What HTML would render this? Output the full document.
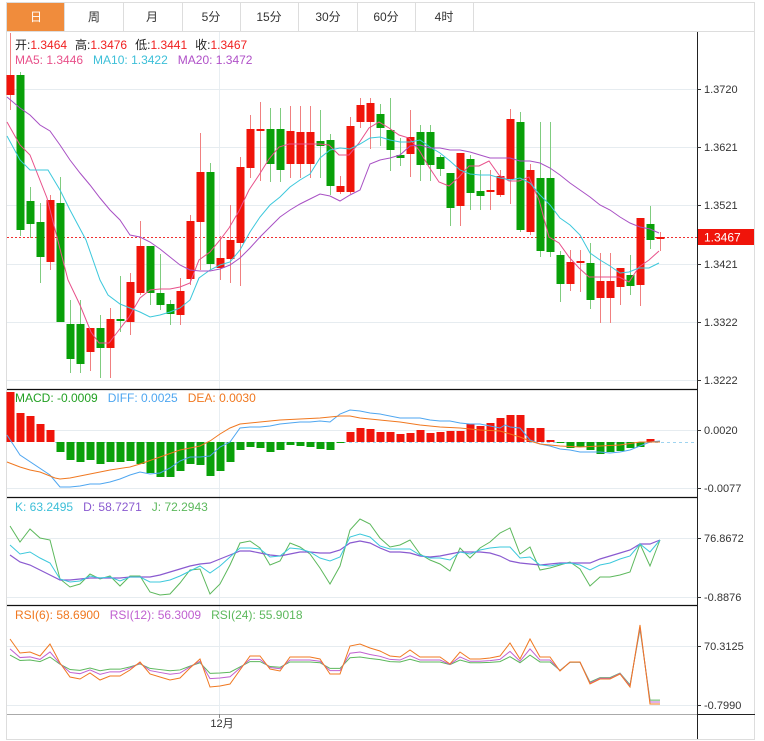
<!DOCTYPE html>
<html><head><meta charset="utf-8"><style>
html,body{margin:0;padding:0;background:#fff;width:764px;height:741px;overflow:hidden}
svg{display:block}
text{font-family:"Liberation Sans","Noto Sans CJK SC",sans-serif}
</style></head><body>
<svg id="s" width="764" height="741" xmlns="http://www.w3.org/2000/svg">
<rect x="0" y="0" width="764" height="741" fill="#fff"/>
<rect x="6.5" y="2.5" width="748" height="29" fill="#fff" stroke="#ddd"/>
<rect x="7" y="3" width="57" height="28" fill="#f08c3c"/>
<g stroke="#ddd"><line x1="64.5" y1="2" x2="64.5" y2="31"/><line x1="123.5" y1="2" x2="123.5" y2="31"/><line x1="182.5" y1="2" x2="182.5" y2="31"/><line x1="240.5" y1="2" x2="240.5" y2="31"/><line x1="298.5" y1="2" x2="298.5" y2="31"/><line x1="357.5" y1="2" x2="357.5" y2="31"/><line x1="415.5" y1="2" x2="415.5" y2="31"/><line x1="473.5" y1="2" x2="473.5" y2="31"/></g>
<g font-size="12" text-anchor="middle" fill="#333"><text x="36" y="21" fill="#fff">日</text><text x="94" y="21">周</text><text x="152" y="21">月</text><text x="211" y="21">5分</text><text x="269" y="21">15分</text><text x="328" y="21">30分</text><text x="386" y="21">60分</text><text x="444" y="21">4时</text></g>
<line x1="6.5" y1="31" x2="6.5" y2="739" stroke="#ddd"/>
<line x1="754.5" y1="31" x2="754.5" y2="739" stroke="#ddd"/>
<line x1="6" y1="739.5" x2="755" y2="739.5" stroke="#ddd"/>
<line x1="219.5" y1="32" x2="219.5" y2="714" stroke="#e8eef2"/>
<g id="grid" stroke="#e6ecf0"></g>
<g id="plot"></g>
<g stroke="#111" stroke-width="1.2">
<line x1="7" y1="389.5" x2="697" y2="389.5"/><line x1="7" y1="497.5" x2="697" y2="497.5"/><line x1="7" y1="605.5" x2="697" y2="605.5"/>
</g>
<line x1="7" y1="714.5" x2="697" y2="714.5" stroke="#aaa"/>
<line x1="697.5" y1="32" x2="697.5" y2="739" stroke="#222"/>
<line x1="697" y1="714.5" x2="755" y2="714.5" stroke="#222"/>
<line x1="219.5" y1="714" x2="219.5" y2="718" stroke="#888"/>
<text x="222" y="727" font-size="11" text-anchor="middle" fill="#333">12月</text>
<g id="axis" font-size="11" fill="#333"></g>
<rect x="698" y="229" width="56" height="16" fill="#f0140a"/>
<text x="704" y="241.5" font-size="12" fill="#fff">1.3467</text>
<g font-size="12">
<text x="15" y="49"><tspan fill="#222">开:</tspan><tspan fill="#f02020">1.3464</tspan><tspan fill="#222" dx="8">高:</tspan><tspan fill="#f02020">1.3476</tspan><tspan fill="#222" dx="8">低:</tspan><tspan fill="#f02020">1.3441</tspan><tspan fill="#222" dx="8">收:</tspan><tspan fill="#f02020">1.3467</tspan></text>
<text x="15" y="64"><tspan fill="#e8508a">MA5: 1.3446</tspan><tspan fill="#3cbfd8" dx="10">MA10: 1.3422</tspan><tspan fill="#b050c8" dx="10">MA20: 1.3472</tspan></text>
<text x="15" y="402"><tspan fill="#22a022">MACD: -0.0009</tspan><tspan fill="#4ea6f0" dx="10">DIFF: 0.0025</tspan><tspan fill="#f07820" dx="10">DEA: 0.0030</tspan></text>
<text x="15" y="511"><tspan fill="#3cbfd8">K: 63.2495</tspan><tspan fill="#8a5ad0" dx="10">D: 58.7271</tspan><tspan fill="#5cb85c" dx="10">J: 72.2943</tspan></text>
<text x="15" y="619"><tspan fill="#f07820">RSI(6): 58.6900</tspan><tspan fill="#c060d0" dx="10">RSI(12): 56.3009</tspan><tspan fill="#5cb85c" dx="10">RSI(24): 55.9018</tspan></text>
</g>
</svg>
<script>
var NS="http://www.w3.org/2000/svg";
function el(p,t,a){var e=document.createElementNS(NS,t);for(var k in a)e.setAttribute(k,a[k]);p.appendChild(e);return e;}
var plot=document.getElementById('plot'),grid=document.getElementById('grid'),axis=document.getElementById('axis');
function X(i){return 10+10*i;}
[[89,'1.3720'],[147,'1.3621'],[205,'1.3521'],[264,'1.3421'],[322,'1.3322'],[380,'1.3222'],[430,'0.0020'],[488,'-0.0077'],[538,'76.8672'],[597,'-0.8876'],[646,'70.3125'],[705,'-0.7990']].forEach(function(g){
 el(grid,'line',{x1:7,y1:g[0]+.5,x2:697,y2:g[0]+.5});
 el(axis,'line',{x1:697,y1:g[0]+.5,x2:701,y2:g[0]+.5,stroke:'#333'});
 var t=el(axis,'text',{x:704,y:g[0]+4});t.textContent=g[1];
});
el(plot,'line',{x1:7,y1:237.5,x2:697,y2:237.5,stroke:'#f03030','stroke-dasharray':'2,2'});
var C=[[1,75,95,33,110],[0,75,230,72,236],[0,201,224,187,238],[0,222,257,203,283],[1,200,262,195,270],[0,203,322,177,322],[0,324,359,300,373],[0,324,364,300,373],[1,328,352,328,371],[0,328,348,315,378],[1,319,348,308,378],[0,319,321,276,332],[1,282,322,273,335],[1,246,293,221,295],[0,246,293,246,305],[0,293,305,254,310],[0,304,314,300,325],[1,291,315,278,325],[1,221,279,215,285],[1,172,222,133,270],[0,172,264,163,270],[1,258,268,236,280],[1,240,259,205,283],[1,167,243,157,286],[1,129,168,115,178],[1,129,130,102,181],[0,129,164,108,182],[0,129,170,108,182],[1,131,164,106,178],[1,132,164,106,178],[1,132,164,106,178],[0,141,146,110,178],[0,140,186,134,195],[1,186,192,176,194],[1,126,192,117,194],[1,105,122,98,128],[1,103,122,98,149],[0,114,128,104,146],[0,130,150,98,171],[0,155,158,138,166],[1,137,154,110,177],[0,132,165,125,181],[0,132,165,125,181],[0,157,169,155,176],[0,173,208,173,226],[1,153,206,153,226],[0,159,193,155,210],[0,191,196,170,210],[1,190,192,170,210],[1,176,195,170,197],[1,119,179,109,204],[0,122,230,112,232],[1,170,232,164,235],[0,178,251,122,257],[0,178,252,122,257],[0,255,284,251,302],[1,262,284,250,291],[1,261,263,250,292],[0,263,300,243,309],[1,281,298,253,323],[1,281,298,253,323],[1,268,287,268,305],[0,275,286,255,295],[1,218,285,218,306],[0,224,240,206,249],[1,237,239,232,251]];
C.forEach(function(c,i){var x=X(i),col=c[0]?'#f0140a':'#09a009',wc=c[0]?'#f08080':'#80cc80';
 el(plot,'line',{x1:x+.5,y1:c[3],x2:x+.5,y2:c[4],stroke:wc});
 el(plot,'rect',{x:x-3.5,y:c[1],width:8,height:Math.max(2,c[2]-c[1]),fill:col});});
function line(pts,col,w){el(plot,'polyline',{points:pts.map(function(p){return p.join(',');}).join(' '),fill:'none',stroke:col,'stroke-width':w||1});}
function idx(arr){return arr.map(function(y,i){return [X(i),y];});}
line([[7,122],[20,145],[30,155],[47,198],[59,245],[68,280],[80,305],[91,332],[99,343],[109,343],[119,330],[129,317],[140,298],[150,290],[160,289],[170,289],[180,287],[190,283],[199,260],[210,252],[220,240],[229,228],[239,211],[249,190],[259,175],[269,159],[279,147],[289,144],[299,144],[309,144],[319,144],[329,145],[339,155],[349,155],[359,143],[369,128],[379,122],[389,128],[399,135],[409,138],[419,150],[429,167],[439,182],[449,186],[459,177],[469,166],[479,166],[489,161],[499,175],[509,181],[519,181],[529,177],[539,200],[549,237],[559,243],[569,257],[579,268],[589,277],[599,277],[609,277],[619,277],[629,282],[639,267],[649,260],[659,251]],'#e8508a');
line([[7,136],[20,160],[30,170],[48,170],[60,190],[70,210],[86,240],[100,280],[108,295],[120,304],[130,308],[140,312],[150,317],[160,315],[170,312],[180,308],[190,300],[199,278],[210,270],[220,265],[230,262],[240,250],[250,232],[260,217],[270,205],[280,197],[290,187],[300,180],[310,174],[320,158],[330,150],[340,148],[350,149],[360,144],[370,138],[380,137],[390,140],[400,142],[410,142],[420,140],[430,147],[440,153],[450,161],[460,170],[470,174],[480,175],[490,175],[500,178],[510,180],[520,178],[530,183],[540,195],[550,205],[560,218],[570,225],[580,235],[590,253],[600,260],[610,266],[620,273],[629,272],[639,268],[649,268],[659,263]],'#3cc8dc');
line([[7,97],[20,108],[30,115],[40,125],[50,131],[60,145],[70,160],[80,173],[90,185],[100,198],[110,210],[120,220],[130,235],[140,237],[150,242],[160,249],[170,257],[180,265],[190,270],[200,271],[210,271],[220,269],[230,265],[240,258],[250,248],[260,237],[270,227],[280,217],[290,210],[300,204],[310,199],[320,194],[330,196],[340,201],[350,195],[360,190],[370,164],[380,160],[390,158],[400,155],[410,146],[420,145],[430,148],[440,148],[450,150],[460,150],[470,152],[480,155],[490,158],[500,158],[510,158],[520,161],[530,161],[540,163],[550,168],[560,175],[570,183],[580,190],[590,197],[600,205],[610,210],[620,217],[630,223],[640,227],[650,229],[659,233]],'#a850c4');
el(plot,'line',{x1:55,y1:442.5,x2:697,y2:442.5,stroke:'#9fd4f0','stroke-dasharray':'3,3'});
var H=[392,413,416,424,430,452,460,462,460,464,462,462,461,464,473,477,477,471,464,465,476,471,462,450,447,448,452,450,445,446,447,449,450,443,432,428,429,432,432,434,433,430,433,432,431,431,424,426,423,418,415,415,428,428,440,443,448,447,450,454,452,451,448,447,439,442];
H.forEach(function(y,i){var x=X(i),z=442;if(y<z)el(plot,'rect',{x:x-3.5,y:y,width:8,height:z-y,fill:'#f0140a'});else if(y>z)el(plot,'rect',{x:x-3.5,y:z,width:8,height:y-z,fill:'#09a009'});});
line([[7,435],[20,455],[50,475],[60,487],[70,487],[80,486],[90,484],[100,484],[110,482],[120,479],[130,475],[140,472],[150,474],[160,473],[170,468],[180,461],[190,457],[200,457],[210,456],[220,447],[230,442],[240,428],[250,427],[260,427],[270,426],[280,424],[290,423],[300,422],[310,422],[320,421],[330,422],[340,414],[350,410],[360,411],[370,413],[380,414],[400,418],[410,418],[420,418],[430,420],[440,421],[450,421],[460,423],[470,424],[480,424],[490,426],[500,428],[505,425],[510,427],[520,428],[530,440],[540,444],[550,446],[560,449],[570,450],[580,452],[590,452],[600,452],[610,453],[620,452],[630,450],[640,446],[650,442],[660,441]],'#4ea6f0');
line([[7,462],[20,467],[30,470],[40,472],[55,478],[60,479],[70,478],[90,474],[110,470],[130,467],[140,464],[160,457],[180,450],[200,446],[210,441],[220,434],[230,428],[240,424],[260,422],[280,420],[300,419],[320,418],[340,416],[350,416],[360,418],[370,419],[380,420],[400,422],[420,425],[440,427],[460,428],[480,430],[500,431],[520,437],[530,441],[540,444],[560,446],[580,447],[600,446],[620,445],[640,442],[660,442]],'#f07820');
var J=[526,542,529,538,540,579,587,584,574,579,576,586,576,576,592,595,594,583,570,569,594,584,565,543,541,548,565,561,543,547,554,568,584,566,530,519,524,538,547,545,540,554,560,564,571,548,558,548,542,533,528,554,547,570,568,565,562,569,586,577,577,575,572,544,566,540];
var K=[545,554,552,558,563,579,582,581,576,578,577,581,577,577,582,582,580,576,571,566,573,566,557,548,548,549,557,556,548,549,552,558,561,557,537,534,537,546,549,549,549,555,558,558,560,552,554,550,548,547,547,558,557,565,566,564,563,565,570,565,563,559,556,544,552,540];
var D=[555,562,565,570,575,580,580,579,578,578,578,578,577,577,577,575,572,569,566,564,563,559,555,551,551,553,555,556,554,552,552,553,553,550,543,541,543,548,552,552,553,556,557,556,554,552,552,552,553,556,561,563,564,565,564,563,563,563,563,559,556,553,550,544,544,540];
line(idx(J),'#5cb85c');line(idx(D),'#8a5ad0',1.2);line(idx(K),'#3cc8dc');
var R=[639,653,652,656,644,663,677,679,673,680,676,676,670,662,674,677,680,678,668,659,687,686,684,670,656,656,669,671,657,657,657,659,674,674,646,644,648,651,656,657,650,657,657,657,664,652,659,659,658,656,643,659,639,657,657,671,662,662,684,679,679,674,687,625,704,704];
var R12=[],R24=[];R.forEach(function(y,i){var f1=i>=55?0.95:0.62,f2=i>=55?0.9:0.38,m=665;R12.push(m+(y-m)*f1);R24.push(m+(y-m)*f2);});
line(idx(R24),'#5cb85c');line(idx(R12),'#c060d0');line(idx(R),'#f07820');
</script>
</body></html>
